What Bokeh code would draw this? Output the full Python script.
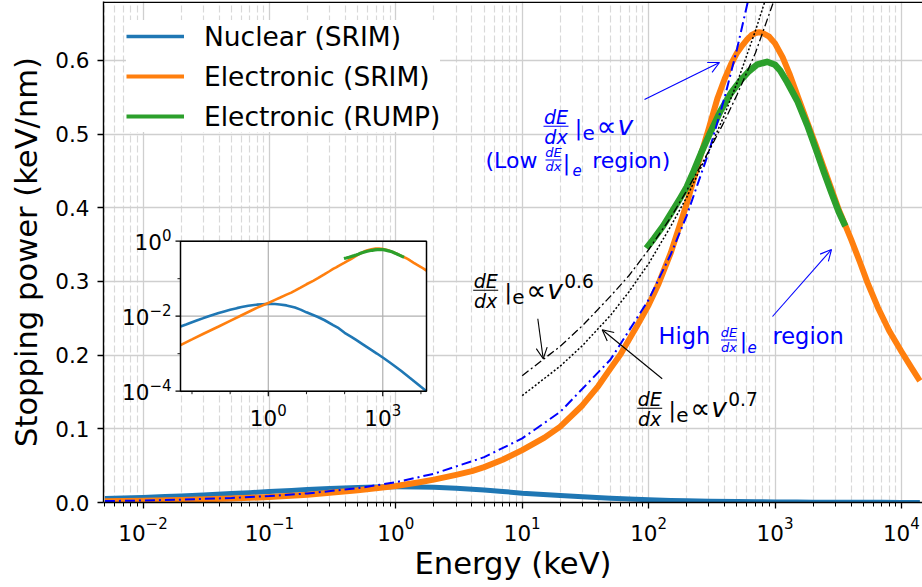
import numpy as np
from math import log10, pi
from bokeh.plotting import figure
from bokeh.models import (Range1d, LogScale, Label, Arrow, OpenHead, Legend, LegendItem,
                          FixedTicker, PrintfTickFormatter, Span)
from bokeh.embed import file_html
from bokeh.resources import INLINE

# ---------------- data ----------------
nuc_E = [0.005, 0.007, 0.01, 0.015, 0.02, 0.03, 0.05, 0.07, 0.1, 0.15, 0.2, 0.3, 0.5, 0.7,
         1, 1.5, 2, 3, 5, 7, 10, 20, 30, 50, 70, 100, 150, 200, 300, 500, 700, 1000,
         1500, 2000, 3000, 5000, 7000, 10000, 14000]
nuc_S = [0.0053, 0.0060, 0.0069, 0.0080, 0.0089, 0.0103, 0.0121, 0.0134, 0.0149, 0.0164,
         0.0175, 0.0190, 0.0203, 0.0209, 0.0213, 0.0211, 0.0206, 0.0194, 0.0170, 0.0150,
         0.0127, 0.0095, 0.0078, 0.0058, 0.0048, 0.0036, 0.00281, 0.00233, 0.00178,
         0.00126, 0.00101, 0.00079, 0.00059, 0.000478, 0.000352, 0.000232, 0.000177,
         0.000131, 0.0001]

ele_E = [0.005, 0.01, 0.02, 0.05, 0.1, 0.2, 0.5, 1, 1.5, 2, 3, 4, 5, 7, 10, 15, 20, 30,
         40, 50, 60, 70, 80, 100, 120, 150, 200, 250, 300, 350, 400, 450, 500, 550, 600,
         650, 700, 750, 800, 900, 1000, 1150, 1300, 1500, 1800, 2100, 2400, 2800, 3200,
         3600, 4000, 4700, 5400, 6500, 8000, 10000, 12000, 14000]
ele_S = [0.0017, 0.0024, 0.0034, 0.0053, 0.0075, 0.0106, 0.0167, 0.0225, 0.0272, 0.031,
         0.0375, 0.0425, 0.048, 0.058, 0.071, 0.088, 0.103, 0.132, 0.158, 0.182, 0.201,
         0.221, 0.238, 0.268, 0.297, 0.339, 0.405, 0.463, 0.508, 0.548, 0.575, 0.595,
         0.610, 0.620, 0.628, 0.634, 0.637, 0.638, 0.637, 0.632, 0.623, 0.604, 0.582,
         0.553, 0.516, 0.485, 0.457, 0.425, 0.397, 0.376, 0.357, 0.326, 0.298, 0.265,
         0.233, 0.205, 0.183, 0.165]

rump_E = [96, 110, 130, 150, 178, 200, 228, 260, 300, 370, 450, 530, 620, 720, 865, 1000,
          1100, 1250, 1500, 1800, 2100, 2430, 2800, 3200, 3600]
rump_S = [0.345, 0.358, 0.375, 0.392, 0.413, 0.428, 0.450, 0.474, 0.498, 0.531, 0.556,
          0.572, 0.585, 0.594, 0.598, 0.594, 0.586, 0.570, 0.545, 0.512, 0.480, 0.449,
          0.420, 0.394, 0.375]

v1_E = [0.005, 0.01, 0.02, 0.05, 0.1, 0.2, 0.5, 1, 2, 5, 10, 20, 50, 100, 150, 200, 300,
        400, 500, 620]
v1_S = [0.0019, 0.0027, 0.0039, 0.0061, 0.0087, 0.0123, 0.0194, 0.0275, 0.039, 0.0615,
        0.087, 0.123, 0.194, 0.275, 0.337, 0.389, 0.476, 0.55, 0.615, 0.685]

v06_E = [10, 20, 30, 50, 70, 100, 150, 200, 300, 400, 500, 700, 1000]
v06_S = [0.172, 0.212, 0.240, 0.280, 0.308, 0.343, 0.387, 0.423, 0.477, 0.518, 0.553,
         0.610, 0.685]

v07_E = [10, 20, 30, 50, 70, 100, 150, 200, 300, 400, 500, 700, 850]
v07_S = [0.145, 0.185, 0.213, 0.254, 0.286, 0.324, 0.375, 0.414, 0.477, 0.527, 0.569,
         0.640, 0.685]

x_major = [1e-2, 1e-1, 1e0, 1e1, 1e2, 1e3, 1e4]
x_minor = [m * 10.0 ** k for k in range(-3, 5) for m in range(2, 10)]
y_ticks = [0.0, 0.1, 0.2, 0.3, 0.4, 0.5, 0.6]

inset_xlim = (0.005, 14000)
inset_ylim = (1e-4, 1)
inset_xmajor = [1, 1000]
inset_xminor = [0.01, 0.1, 10, 100, 10000]
inset_ymajor = [1, 1e-2, 1e-4]
inset_yminor = [1e-1, 1e-3]

legend_labels = ["Nuclear (SRIM)", "Electronic (SRIM)", "Electronic (RUMP)"]
x_label = "Energy (keV)"
y_label = "Stopping power (keV/nm)"

C1, C2, C3 = "#1f77b4", "#ff7f0e", "#2ca02c"
FONT = "DejaVu Sans"

# ---------------- geometry (window pixels) ----------------
W, H = 922, 587
FL, FR, FT, FB = 103, 922, 1, 502
X0PX, PXDEC, YPX = 395.3, 126.4, 737.0
K_BASE = 0.36   # label anchor correction (fraction of font size)


def X(px):
    return 10 ** ((px - X0PX) / PXDEC)


def Y(py):
    return (FB - py) / YPX


p = figure(width=W, height=H, x_axis_type="log",
           x_range=Range1d(X(FL), X(FR)), y_range=Range1d(0, Y(FT)),
           output_backend="svg", toolbar_location=None,
           min_border_left=FL, min_border_right=0, min_border_top=FT,
           min_border_bottom=H - FB)
p.outline_line_color = None
p.background_fill_color = "white"
p.border_fill_color = "white"

# axes
xa = p.xaxis[0]
xa.ticker = FixedTicker(ticks=x_major, minor_ticks=x_minor)
ya = p.yaxis[0]
ya.ticker = FixedTicker(ticks=y_ticks)
ya.formatter = PrintfTickFormatter(format="%.1f")
for ax in (xa, ya):
    ax.axis_line_color = "black"
    ax.axis_line_width = 1.4
    ax.major_tick_line_color = "black"
    ax.major_tick_line_width = 1.3
    ax.major_tick_out = 6
    ax.major_tick_in = 0
    ax.major_label_text_font = FONT
    ax.major_label_text_font_size = "21.5px"
    ax.major_label_text_color = "black"
    ax.major_label_standoff = 8
    ax.axis_label_text_font = FONT
    ax.axis_label_text_font_size = "30.6px"
    ax.axis_label_text_font_style = "normal"
    ax.axis_label_text_color = "black"
xa.axis_label = x_label
ya.axis_label = y_label
xa.axis_label_standoff = 2
ya.axis_label_standoff = 8
xa.minor_tick_line_color = "black"
xa.minor_tick_line_width = 1.0
xa.minor_tick_out = 4
xa.minor_tick_in = 0
ya.minor_tick_line_color = None

p.xgrid.grid_line_color = "#cfcfcf"
p.xgrid.grid_line_width = 1.3
p.xgrid.minor_grid_line_color = "#d9d9d9"
p.xgrid.minor_grid_line_width = 1.2
p.xgrid.minor_grid_line_dash = "7 3"
p.ygrid.grid_line_color = "#cfcfcf"
p.ygrid.grid_line_width = 1.3

p.add_layout(Span(location=Y(FT + 0.8), dimension="width", line_color="black",
                  line_width=1.6))

# ---------------- main curves ----------------
p.line(nuc_E, nuc_S, line_color=C1, line_width=5, line_join="round")
p.line(ele_E, ele_S, line_color=C2, line_width=6, line_join="round")
p.line(rump_E, rump_S, line_color=C3, line_width=6.5, line_join="round")
p.line(v1_E, v1_S, line_color="blue", line_width=2, line_dash="10 4 2 4")
p.line(v06_E, v06_S, line_color="black", line_width=1.3, line_dash="8 3 2 3")
p.line(v07_E, v07_S, line_color="black", line_width=1.5, line_dash="2 2")

# legend (invisible copies with thinner lines)
leg_r = [p.line(nuc_E, nuc_S, line_color=C1, line_width=3.5, visible=False),
         p.line(ele_E, ele_S, line_color=C2, line_width=4.2, visible=False),
         p.line(rump_E, rump_S, line_color=C3, line_width=4.2, visible=False)]
legend = Legend(items=[LegendItem(label=l, renderers=[r]) for l, r in zip(legend_labels, leg_r)],
                location=(23, 370), label_text_font=FONT, label_text_font_size="26.5px",
                label_text_color="black", glyph_width=58, glyph_height=32, label_height=32,
                label_standoff=20, spacing=8, padding=8, margin=0,
                border_line_color=None, background_fill_color="white",
                background_fill_alpha=1.0)
p.add_layout(legend)

# ---------------- inset (log-log) ----------------
IL, IR, IT, IB = 180, 426, 240.7, 390.7
idx = (IR - IL) / (log10(inset_xlim[1]) - log10(inset_xlim[0]))
idy = (IB - IT) / (log10(inset_ylim[1]) - log10(inset_ylim[0]))
p.extra_x_ranges = {"ix": Range1d(10 ** (log10(inset_xlim[0]) - (IL - FL) / idx),
                                  10 ** (log10(inset_xlim[1]) + (FR - IR) / idx))}
p.extra_y_ranges = {"iy": Range1d(10 ** (log10(inset_ylim[0]) - (FB - IB) / idy),
                                  10 ** (log10(inset_ylim[1]) + (IT - FT) / idy))}
p.extra_x_scales = {"ix": LogScale()}
p.extra_y_scales = {"iy": LogScale()}
kw = dict(x_range_name="ix", y_range_name="iy")


def IXp(v):
    return IL + (log10(v) - log10(inset_xlim[0])) * idx


def IYp(v):
    return IB - (log10(v) - log10(inset_ylim[0])) * idy


def ixd(px):
    return 10 ** (log10(inset_xlim[0]) + (px - IL) / idx)


def iyd(py):
    return 10 ** (log10(inset_ylim[0]) + (IB - py) / idy)


p.quad(left=[inset_xlim[0]], right=[inset_xlim[1]], bottom=[inset_ylim[0]],
       top=[inset_ylim[1]], fill_color="white", line_color=None, **kw)
p.segment(x0=inset_xmajor, y0=[inset_ylim[0]] * 2, x1=inset_xmajor, y1=[inset_ylim[1]] * 2,
          line_color="#b0b0b0", line_width=1.2, **kw)
p.segment(x0=[inset_xlim[0]] * 3, y0=inset_ymajor, x1=[inset_xlim[1]] * 3, y1=inset_ymajor,
          line_color="#b0b0b0", line_width=1.2, **kw)
p.line(nuc_E, nuc_S, line_color=C1, line_width=2.6, **kw)
p.line(ele_E, ele_S, line_color=C2, line_width=2.6, **kw)
p.line(rump_E, rump_S, line_color=C3, line_width=3.2, **kw)
p.quad(left=[inset_xlim[0]], right=[inset_xlim[1]], bottom=[inset_ylim[0]],
       top=[inset_ylim[1]], fill_color=None, line_color="black", line_width=1.5, **kw)
p.segment(x0=inset_xmajor, y0=[inset_ylim[0]] * 2, x1=inset_xmajor,
          y1=[iyd(IB + 5)] * 2, line_color="black", line_width=1.2, **kw)
p.segment(x0=inset_xminor, y0=[inset_ylim[0]] * 5, x1=inset_xminor,
          y1=[iyd(IB + 3)] * 5, line_color="black", line_width=0.9, **kw)
p.segment(x0=[inset_xlim[0]] * 3, y0=inset_ymajor, x1=[ixd(IL - 5)] * 3, y1=inset_ymajor,
          line_color="black", line_width=1.2, **kw)
p.segment(x0=[inset_xlim[0]] * 2, y0=inset_yminor, x1=[ixd(IL - 3)] * 2, y1=inset_yminor,
          line_color="black", line_width=0.9, **kw)


# ---------------- text helpers ----------------
def txt(px, base_py, s, size, color="black", italic=False, align="left"):
    p.add_layout(Label(x=X(px), y=Y(base_py - K_BASE * size), text=s, text_font=FONT,
                       text_font_size=f"{size}px", text_color=color,
                       text_font_style="italic" if italic else "normal",
                       text_align=align, text_baseline="alphabetic"))


def hline(x1, x2, y, color, lw=1.2):
    p.add_layout(Arrow(start=None, end=None, x_start=X(x1), y_start=Y(y), x_end=X(x2),
                       y_end=Y(y), line_color=color, line_width=lw))


def arrow(x1, y1, x2, y2, color):
    p.add_layout(Arrow(end=OpenHead(size=11, line_color=color, line_width=1.1),
                       x_start=X(x1), y_start=Y(y1), x_end=X(x2), y_end=Y(y2),
                       line_color=color, line_width=1.1))


def frac(cx, num_b, bar_y, den_b, size, color, width, lw=1.1):
    txt(cx, num_b, "dE", size, color, italic=True, align="center")
    txt(cx, den_b, "dx", size, color, italic=True, align="center")
    hline(cx - width / 2, cx + width / 2, bar_y, color, lw)


def prop_label(x0, yb, expo, color):
    frac(x0 + 12.5, yb - 12, yb - 9.3, yb + 8, 19, color, 25)
    txt(x0 + 35, yb, "|", 22, color, align="center")
    txt(x0 + 39, yb + 5, "e", 20, color)
    txt(x0 + 63, yb + 1, "\u221d", 28, color, align="center")
    txt(x0 + 74, yb, "v", 26.5, color, italic=True)
    if expo:
        txt(x0 + 91, yb - 12, expo, 18.6, color)


DW = {"0": 1303, "1": 1303, "2": 1303, "3": 1303, "4": 1303, "\u2212": 1716}


def tw(s, size):
    return sum(DW[c] for c in s) / 2048 * size


def pow10(px_left, base_y, expo, size=21.5, esize=15):
    txt(px_left, base_y, "10", size)
    txt(px_left + tw("10", size), base_y - 10, expo, esize)


# inset tick labels
for v, e in zip(inset_xmajor, ["0", "3"]):
    wtot = tw("10", 21.5) + tw(e, 15)
    pow10(IXp(v) - wtot / 2, 425, e)
for v, e in zip(inset_ymajor, ["0", "\u22122", "\u22124"]):
    wtot = tw("10", 21.5) + tw(e, 15)
    pow10(171 - wtot, IYp(v) + 9, e)

# annotations
prop_label(543, 135, "", "blue")
txt(485, 168.3, "(Low", 22, "blue")
frac(553, 157, 159.5, 171, 13, "blue", 16, lw=1.0)
txt(566, 170, "|", 22, "blue", align="center")
txt(572, 175, "e", 15, "blue", italic=True)
txt(591.7, 168.3, "region)", 22, "blue")
arrow(644, 99, 719, 62, "blue")

txt(658, 343.3, "High", 22.5, "blue")
frac(728.5, 337, 339.5, 352, 13, "blue", 16, lw=1.0)
txt(743, 348, "|", 22, "blue", align="center")
txt(747, 352, "e", 15, "blue", italic=True)
txt(772, 343.3, "region", 22.5, "blue")
arrow(772, 316, 831, 249, "blue")

prop_label(472.7, 299, "0.6", "black")
arrow(537.3, 318.3, 542.7, 358.3, "black")
prop_label(636.7, 417, "0.7", "black")
arrow(661.7, 378.3, 601.7, 329.3, "black")

open("out.html", "w").write(file_html(p, INLINE))
